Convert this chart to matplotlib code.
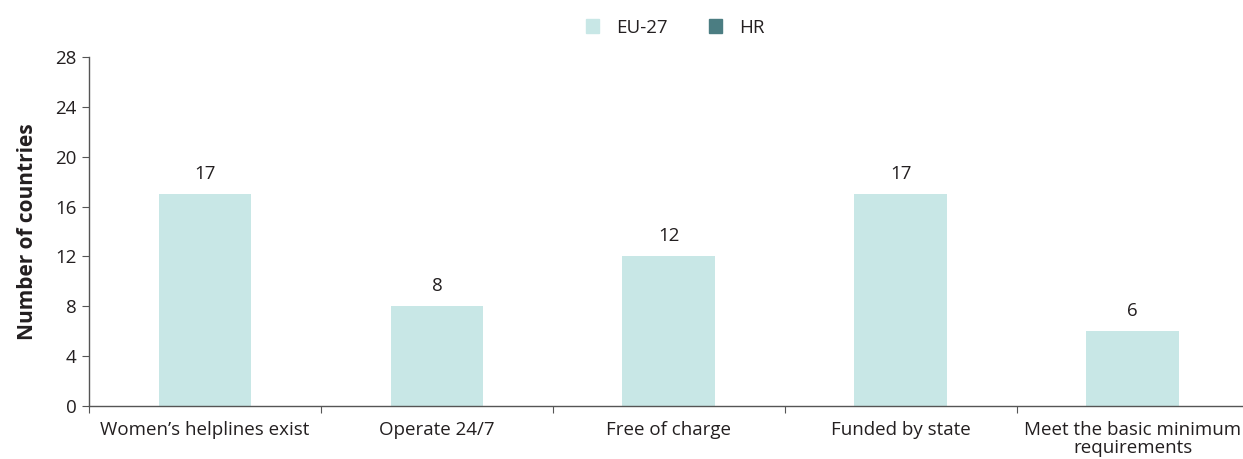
import matplotlib.pyplot as plt
import numpy as np
from matplotlib.patches import Patch

plt.rcParams['font.family'] = ['Open Sans', 'DejaVu Sans']

# Data
categories = ['Women\u2019s helplines exist', 'Operate 24/7', 'Free of charge',
              'Funded by state', 'Meet the basic minimum\nrequirements']
eu27 = [17, 8, 12, 17, 6]
hr = [0, 0, 0, 0, 0]
yticks = [0, 4, 8, 12, 16, 20, 24, 28]

eu_color = '#c8e7e6'
hr_color = '#4b7d82'
text_color = '#231f20'

fig = plt.figure(figsize=(12.43, 4.59), dpi=100)
ax = fig.add_axes([0.0716, 0.1155, 0.933, 0.7603])

x = np.arange(len(categories))
ax.bar(x, eu27, width=0.4, color=eu_color, zorder=2)
ax.bar(x, hr, width=0.4, color=hr_color, zorder=2)

for xi, v in zip(x, eu27):
    ax.text(xi, v + 0.9, str(v), ha='center', va='bottom', fontsize=13.5, color=text_color)

ax.set_xlim(-0.5, len(categories) - 0.5)
ax.set_ylim(0, 28)
ax.set_yticks(yticks)
ax.set_yticklabels([str(t) for t in yticks], fontsize=13.5, color=text_color)

# x ticks at category boundaries, labels at centres
ax.set_xticks(np.arange(len(categories) + 1) - 0.5)
ax.set_xticklabels([])
ax.set_xticks(x, minor=True)
ax.set_xticklabels(categories, minor=True, fontsize=13.5, color=text_color,
                   linespacing=0.95)
ax.tick_params(axis='x', which='minor', length=0, pad=11)
ax.tick_params(axis='x', which='major', length=5, color='#555555', direction='out')
ax.tick_params(axis='y', length=5, color='#555555', direction='out', pad=4)

for side in ['top', 'right']:
    ax.spines[side].set_visible(False)
for side in ['left', 'bottom']:
    ax.spines[side].set_color('#555555')
    ax.spines[side].set_linewidth(1.0)

ax.set_ylabel('Number of countries', fontsize=15, fontweight='bold', color=text_color,
              labelpad=12)

handles = [Patch(color=eu_color, label='EU-27'), Patch(color=hr_color, label='HR')]
fig.legend(handles=handles, loc='center', bbox_to_anchor=(0.543, 0.94), ncol=2,
           frameon=False, fontsize=13.5, handlelength=0.7, handleheight=0.7,
           columnspacing=2.2, handletextpad=0.9, labelcolor=text_color)

fig.savefig('out.png', dpi=100)
